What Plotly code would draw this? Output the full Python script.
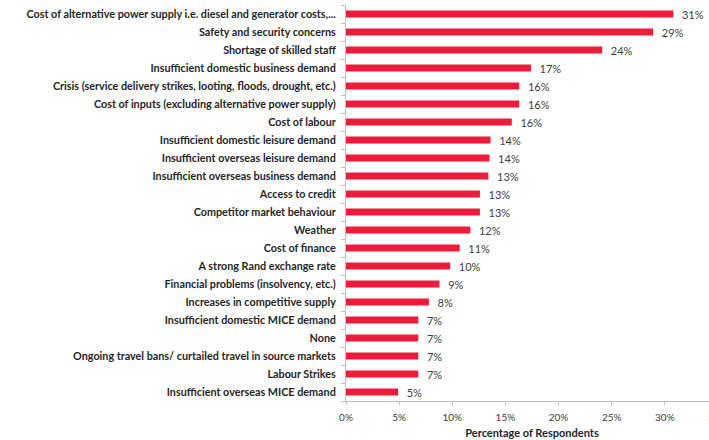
import plotly.graph_objects as go

# Challenges reported by respondents, listed from most to least cited
challenges = [
    "Cost of alternative power supply i.e. diesel and generator costs,...",
    "Safety and security concerns",
    "Shortage of skilled staff",
    "Insufficient domestic business demand",
    "Crisis (service delivery strikes, looting, floods, drought, etc.)",
    "Cost of inputs (excluding alternative power supply)",
    "Cost of labour",
    "Insufficient domestic leisure demand",
    "Insufficient overseas leisure demand",
    "Insufficient overseas business demand",
    "Access to credit",
    "Competitor market behaviour",
    "Weather",
    "Cost of finance",
    "A strong Rand exchange rate",
    "Financial problems (insolvency, etc.)",
    "Increases in competitive supply",
    "Insufficient domestic MICE demand",
    "None",
    "Ongoing travel bans/ curtailed travel in source markets",
    "Labour Strikes",
    "Insufficient overseas MICE demand",
]

# Share of respondents (%)
share_pct = [
    30.8, 28.9, 24.1, 17.4, 16.3, 16.3, 15.6, 13.6, 13.5, 13.4, 12.6,
    12.6, 11.7, 10.7, 9.8, 8.8, 7.8, 6.8, 6.8, 6.8, 6.8, 4.9,
]

x_ticks = [0, 5, 10, 15, 20, 25, 30, 35]

BAR_RED = "#EE1B3B"
TEXT_GREY = "#404040"
AXIS_GREY = "#BFBFBF"
FONT = "Lato, Calibri, Carlito, sans-serif"

fig = go.Figure(
    go.Bar(
        x=share_pct,
        y=challenges,
        orientation="h",
        marker=dict(color=BAR_RED, line=dict(width=0)),
        width=0.4,
        text=share_pct,
        texttemplate="  %{x:.0f}%",
        textposition="outside",
        constraintext="none",
        textfont=dict(family=FONT, size=11, color=TEXT_GREY),
        cliponaxis=False,
        hoverinfo="skip",
    )
)

fig.update_layout(
    width=728,
    height=440,
    margin=dict(l=346, r=10, t=5, b=39),
    paper_bgcolor="white",
    plot_bgcolor="white",
    showlegend=False,
    font=dict(family=FONT, color=TEXT_GREY),
)

fig.update_xaxes(
    range=[0, 35],
    tickvals=x_ticks,
    ticktext=[f"{v}%" for v in x_ticks],
    tickfont=dict(family=FONT, size=10, color=TEXT_GREY),
    showgrid=False,
    zeroline=False,
    showline=True,
    linecolor=AXIS_GREY,
    linewidth=1,
    ticks="outside",
    ticklen=3,
    tickcolor=AXIS_GREY,
    ticklabelstandoff=4,
    automargin=False,
    title=dict(
        text="<b>Percentage of Respondents</b>",
        font=dict(family=FONT, size=11, color="#262626"),
        standoff=7,
    ),
)

fig.update_yaxes(
    categoryorder="array",
    categoryarray=challenges,
    autorange="reversed",
    tickmode="array",
    tickvals=challenges,
    ticktext=[f"<b>{c}</b>" for c in challenges],
    tickfont=dict(family=FONT, size=10.8, color="#262626"),
    showgrid=False,
    zeroline=False,
    showline=True,
    linecolor=AXIS_GREY,
    linewidth=1,
    ticks="outside",
    tickson="boundaries",
    ticklen=4,
    tickcolor=AXIS_GREY,
    ticklabelstandoff=7,
    automargin=False,
)

# The figure is a little wider than the window; hide the overflow scrollbars.
hide_overflow = (
    "document.documentElement.style.overflow='hidden';"
    "document.body.style.overflow='hidden';"
    "document.body.style.margin='0';"
)

fig.write_html("out.html", post_script=hide_overflow)
